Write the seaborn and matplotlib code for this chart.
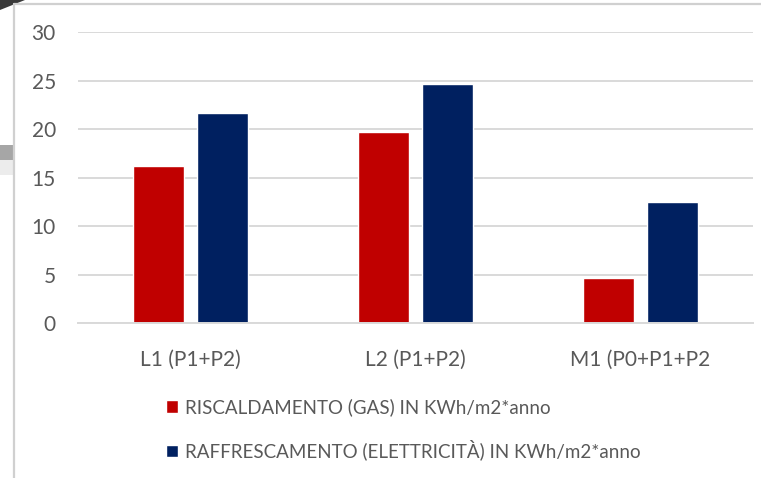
import matplotlib
matplotlib.use("Agg")
import matplotlib.pyplot as plt
from matplotlib.lines import Line2D
from matplotlib.patches import Rectangle, Polygon
import pandas as pd
import seaborn as sns

# Energy consumption per building lot
categorie = ["L1 (P1+P2)", "L2 (P1+P2)", "M1 (P0+P1+P2"]
riscaldamento = [16.2, 19.7, 4.7]
raffrescamento = [21.7, 24.6, 12.5]
serie = [
    "RISCALDAMENTO (GAS) IN KWh/m2*anno",
    "RAFFRESCAMENTO (ELETTRICITÀ) IN KWh/m2*anno",
]
colori = ["#C00000", "#002060"]
yticks = [0, 5, 10, 15, 20, 25, 30]

df = pd.DataFrame({
    "categoria": categorie * 2,
    "valore": riscaldamento + raffrescamento,
    "serie": [serie[0]] * len(categorie) + [serie[1]] * len(categorie),
})

sns.set_theme(style="white")
plt.rcParams["font.family"] = ["Lato", "DejaVu Sans"]
TXT = "#595959"
GRID = "#d9d9d9"

W, H = 761, 478
fig = plt.figure(figsize=(W / 100, H / 100), dpi=100)
fig.patch.set_facecolor("white")

ax = fig.add_axes([78 / W, 1 - 323.3 / H, 675 / W, (323.3 - 32) / H])
sns.barplot(
    data=df, x="categoria", y="valore", hue="serie",
    palette=colori, saturation=1, errorbar=None,
    width=0.57, gap=0.21, ax=ax,
)

ax.set_xlim(-0.5, 2.5)
ax.set_ylim(0, 30)
ax.set_yticks(yticks)
ax.set_xlabel("")
ax.set_ylabel("")
ax.yaxis.grid(True, color=GRID, lw=1.4)
ax.set_axisbelow(True)
for side in ["top", "right", "left"]:
    ax.spines[side].set_visible(False)
ax.spines["bottom"].set_color(GRID)
ax.spines["bottom"].set_linewidth(1.4)
ax.tick_params(axis="both", length=0, colors=TXT, labelsize=15)
ax.tick_params(axis="y", pad=16)
ax.tick_params(axis="x", pad=19)

sns.move_legend(
    ax, "center left",
    bbox_to_anchor=(166 / W, 1 - 429.5 / H), bbox_transform=fig.transFigure,
    frameon=False, title=None, fontsize=13.5,
    handlelength=0.65, handleheight=0.65, handletextpad=0.35,
    labelspacing=1.25, borderpad=0, borderaxespad=0,
)
for t in ax.get_legend().get_texts():
    t.set_color(TXT)

# Chart frame and surrounding window edges
fig.add_artist(Line2D([14 / W, 14 / W], [0, 1 - 4 / H], transform=fig.transFigure,
                      color="#d0d0d0", lw=1.6))
fig.add_artist(Line2D([14 / W, 1], [1 - 4 / H, 1 - 4 / H], transform=fig.transFigure,
                      color="#d0d0d0", lw=1.6))
fig.add_artist(Rectangle((0, 1 - 160 / H), 13 / W, 15 / H, transform=fig.transFigure,
                         facecolor="#a6a6a6", edgecolor="none"))
fig.add_artist(Rectangle((0, 1 - 175 / H), 13 / W, 15 / H, transform=fig.transFigure,
                         facecolor="#ececec", edgecolor="none"))
fig.add_artist(Polygon([(0, 1), (25 / W, 1), (0, 1 - 10 / H)], closed=True,
                       transform=fig.transFigure, facecolor="#3a3a3a", edgecolor="none"))

fig.savefig("out.png", dpi=100)
